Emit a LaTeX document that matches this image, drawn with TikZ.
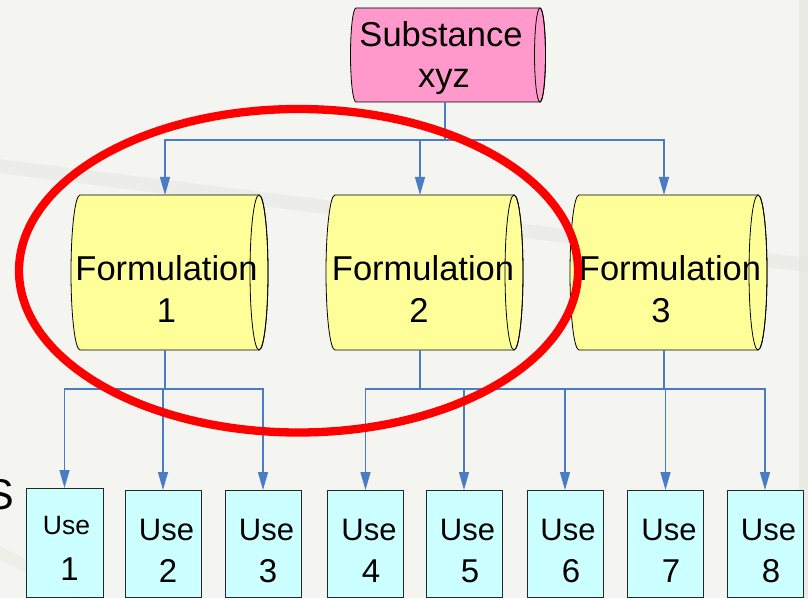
\documentclass[tikz,border=0pt]{standalone}
\usepackage{fontspec}
\setmainfont{Liberation Sans}
\usetikzlibrary{arrows.meta,calc}
\definecolor{bgc}{RGB}{244,244,240}
\definecolor{bandc}{RGB}{226,228,220}
\definecolor{pinkf}{RGB}{255,153,204}
\definecolor{yellowf}{RGB}{255,255,153}
\definecolor{cyanf}{RGB}{204,255,255}
\definecolor{connc}{RGB}{74,124,196}
\definecolor{hlred}{RGB}{255,0,0}
\newcommand{\drumshape}[5]{%
  \filldraw[drumline, fill=#2] ([xshift=#5]#1.north west) -- ([xshift=#5]#1.north east)
    arc[start angle=90, end angle=-90, x radius=#3, y radius=#4]
    -- ([xshift=#5]#1.south west)
    arc[start angle=270, end angle=90, x radius=#3, y radius=#4] -- cycle;
  \draw[drumline] ([xshift=#5]#1.east) ellipse[x radius=#3, y radius=#4];
}
\begin{document}
\begin{tikzpicture}[x=1pt, y=1pt,
  bodynode/.style={rectangle, inner sep=0pt, outer sep=0pt},
  drumline/.style={draw=black, line width=0.8pt},
  usebox/.style={rectangle, draw=black!85, line width=0.9pt, fill=cyanf, inner sep=0pt, outer sep=0pt, minimum width=76pt, minimum height=107pt},
  bigtext/.style={inner sep=0pt, anchor=base, font=\fontsize{34.5}{40}\selectfont},
  usetext/.style={inner sep=0pt, anchor=base, font=\fontsize{31}{36}\selectfont},
  digtext/.style={inner sep=0pt, anchor=base, font=\fontsize{33}{38}\selectfont},
  conn/.style={draw=connc, line width=1.3pt, -{Triangle[length=18pt, width=10pt]}},
  connline/.style={draw=connc, line width=1.3pt}
]
% background
\useasboundingbox (0,0) rectangle (808,598);
\fill[bgc] (0,0) rectangle (808,598);
\fill[bandc, opacity=0.6] (799,0) rectangle (808,598);
\draw[bandc, line width=14pt, opacity=0.4, line cap=round] (-10,433) -- (350,388) -- (808,333);
\draw[bandc, line width=12pt, opacity=0.3] (-10,50) -- (90,0);

% invisible body nodes
\node[bodynode, minimum width=184pt, minimum height=94pt] (sub) at (445,543) {};
\node[bodynode, minimum width=179pt, minimum height=155pt] (f1) at (165,325.5) {};
\node[bodynode, minimum width=179pt, minimum height=155pt] (f2) at (420,325.5) {};
\node[bodynode, minimum width=179pt, minimum height=155pt] (f3) at (664,325.5) {};

% drums
\drumshape{sub}{pinkf}{5.5}{47}{3pt}
\drumshape{f1}{yellowf}{9}{77.5}{4.5pt}
\drumshape{f2}{yellowf}{9}{77.5}{4.5pt}
\drumshape{f3}{yellowf}{9}{77.5}{4.5pt}

% texts in drums
\node[bigtext] (subA) at (441,551) {Substance};
\node[bigtext] (subB) at (444,510) {xyz};
\node[bigtext] (f1A) at (166.5,318) {Formulation};
\node[bigtext] (f1B) at (166.5,276) {1};
\node[bigtext] (f2A) at (423,318) {Formulation};
\node[bigtext] (f2B) at (419,276) {2};
\node[bigtext] (f3A) at (670,318) {Formulation};
\node[bigtext] (f3B) at (661,276) {3};

% use boxes
\node[usebox, minimum width=77pt, minimum height=109pt] (u1) at (64.5,55.5) {};
\node[usebox] (u2) at (163,54.5) {};
\node[usebox] (u3) at (263,54.5) {};
\node[usebox] (u4) at (365.5,54.5) {};
\node[usebox] (u5) at (464,54.5) {};
\node[usebox] (u6) at (565,54.5) {};
\node[usebox] (u7) at (665.5,54.5) {};
\node[usebox] (u8) at (765,54.5) {};

\node[inner sep=0pt, anchor=base, font=\fontsize{26.5}{30}\selectfont] (u1A) at (66.5,64) {Use};
\node[digtext] (u1B) at (69.5,18) {1};
\node[usetext] (u2A) at (166.5,58) {Use};
\node[digtext] (u2B) at (168,16) {2};
\node[usetext] (u3A) at (266.5,58) {Use};
\node[digtext] (u3B) at (268,16) {3};
\node[usetext] (u4A) at (369,58) {Use};
\node[digtext] (u4B) at (371,16) {4};
\node[usetext] (u5A) at (467.5,58) {Use};
\node[digtext] (u5B) at (470,16) {5};
\node[usetext] (u6A) at (568,58) {Use};
\node[digtext] (u6B) at (571,16) {6};
\node[usetext] (u7A) at (669,58) {Use};
\node[digtext] (u7B) at (671,16) {7};
\node[usetext] (u8A) at (768.5,58) {Use};
\node[digtext] (u8B) at (771,16) {8};

% fragment of a word at the left edge (cut off in the reference too)
\node[inner sep=0pt, anchor=base east, font=\fontsize{43}{48}\selectfont] (frag) at (14.5,89) {S};

% connectors
\coordinate (topbus) at (0,458);
\coordinate (lowbus) at (0,209);
\draw[conn] (sub.south) -- (sub.south |- topbus) -| (f1.north);
\draw[conn] (sub.south) -- (sub.south |- topbus) -| (f2.north);
\draw[conn] (sub.south) -- (sub.south |- topbus) -| (f3.north);

\draw[conn] (f1.south) -- (f1.south |- lowbus) -| (u1.north);
\draw[conn] (f1.south) -- (f1.south |- lowbus) -| (u2.north);
\draw[conn] (f1.south) -- (f1.south |- lowbus) -| (u3.north);

\draw[conn] (f2.south) -- (f2.south |- lowbus) -| (u4.north);
\draw[conn] (f2.south) -- (f2.south |- lowbus) -| (u5.north);
\draw[conn] (f2.south) -- (f2.south |- lowbus) -| (u6.north);
\draw[connline] (f2.south |- lowbus) -- (f3.south |- lowbus);
\draw[conn] (f3.south) -- (f3.south |- lowbus) -| (u7.north);
\draw[conn] (f3.south) -- (f3.south |- lowbus) -| (u8.north);

% red highlight ellipse
\draw[hlred, line width=8.3pt] (298.5,327.25) ellipse[x radius=279.5, y radius=161.75];
\end{tikzpicture}
\end{document}
